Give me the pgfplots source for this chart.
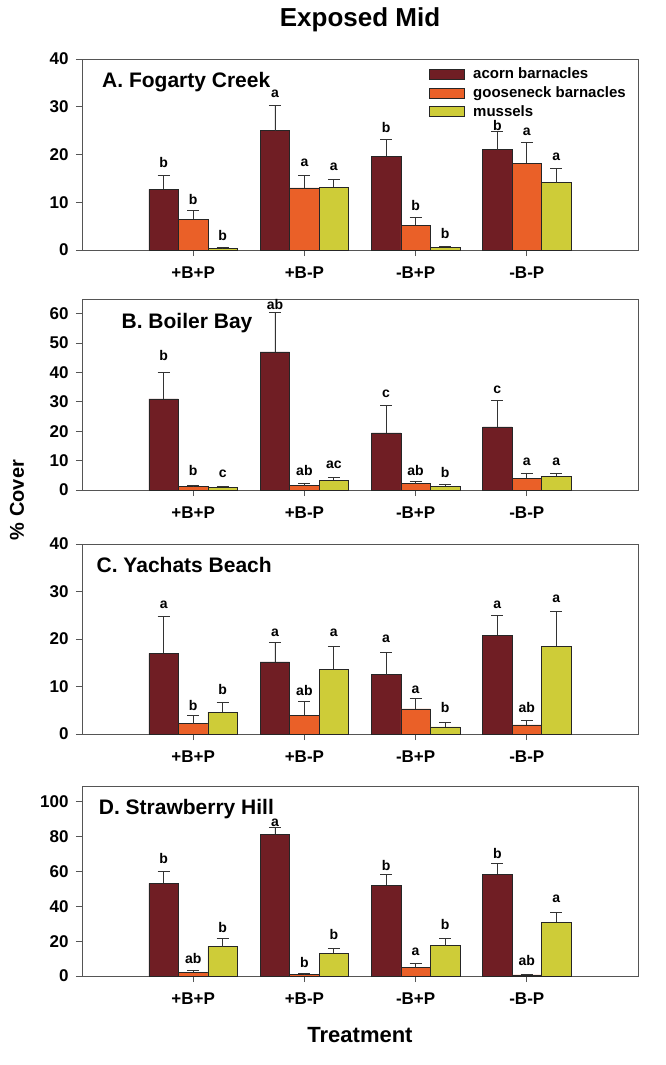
\documentclass[border=0pt]{standalone}
\usepackage{pgfplots}
\usepackage{pgfplotstable}
\pgfplotsset{compat=1.18}
\usepackage{fontspec}
\setmainfont{Liberation Sans}

\definecolor{acorn}{RGB}{112,30,36}
\definecolor{goose}{RGB}{234,96,40}
\definecolor{mussel}{RGB}{206,204,56}
\definecolor{frame}{RGB}{85,85,85}

% x = treatment index, a/g/m = mean cover, ae/ge/me = upper error
\pgfplotstableread{
x a ae g ge m me
1 12.7 3.0 6.4 1.8 0.3 0.2
2 25.0 5.3 13.0 2.7 13.1 1.7
3 19.6 3.5 5.2 1.7 0.6 0.2
4 21.0 3.9 18.2 4.4 14.1 2.9
}\tabA
\pgfplotstableread{
x a ae g ge m me
1 31.0 9.0 1.1 0.6 0.9 0.35
2 47.0 13.5 1.5 0.7 3.4 0.9
3 19.4 9.4 2.2 0.6 1.25 0.65
4 21.5 9.0 4.0 1.8 4.6 1.0
}\tabB
\pgfplotstableread{
x a ae g ge m me
1 17.0 7.8 2.2 1.7 4.6 2.1
2 15.2 4.1 4.0 2.8 13.6 4.9
3 12.5 4.7 5.3 2.2 1.5 1.0
4 20.8 4.1 1.9 1.0 18.5 7.25
}\tabC
\pgfplotstableread{
x a ae g ge m me
1 53.1 7.1 2.3 1.1 16.8 4.5
2 81.3 3.7 0.8 0.5 13.1 2.9
3 52.0 6.5 4.8 2.6 17.5 4.2
4 58.5 6.1 0.6 0.5 30.9 5.5
}\tabD

\newcommand{\fsz}[1]{\fontsize{#1}{#1}\selectfont\bfseries}

\tikzset{
  acornbar/.style={fill=acorn, draw=black!85, line width=0.6pt},
  goosebar/.style={fill=goose, draw=black!85, line width=0.6pt},
  musselbar/.style={fill=mussel, draw=black!85, line width=0.6pt},
  sig/.style={font=\fsz{14}, inner sep=0pt},
  ptitle/.style={font=\fsz{21}, anchor=west, inner sep=0pt},
}

\pgfplotsset{
  panel/.style={
    scale only axis, width=556pt,
    ybar, clip=false,
    xmin=0, xmax=5,
    xtick={1,2,3,4},
    xticklabels={+B+P,+B-P,-B+P,-B-P},
    xtick pos=bottom, ytick pos=left,
    tick align=outside,
    major tick length=6pt,
    axis line style={frame, line width=1pt},
    tick style={frame, line width=1pt},
    ymin=0,
    /pgf/number format/assume math mode=true,
    xticklabel style={font=\fsz{17}, yshift=-7pt},
    yticklabel style={font=\fsz{17}, xshift=-4pt},
    bar width=0.265,
    error bars/y dir=plus,
    error bars/y explicit,
    error bars/error bar style={black!80, line width=0.8pt},
    error bars/error mark options={rotate=90, mark size=6pt, black!80, line width=0.8pt},
  },
}

\begin{document}
\begin{tikzpicture}
\path[use as bounding box] (0,0) rectangle (665pt,-1065pt);

\node[font=\fsz{26}] at (360pt,-20pt) {Exposed Mid};
\node[font=\fsz{20}, rotate=90] at (17pt,-500pt) {\% Cover};
\node[font=\fsz{22}] at (360pt,-1035pt) {Treatment};

% A. Fogarty Creek
\begin{axis}[panel, at={(82pt,-59pt)}, anchor=north west, height=191pt,
  ymax=40, ytick={0,10,20,30,40},
  legend style={at={(rel axis cs:0.623,0.964)}, anchor=north west, draw=none, fill=none,
    font=\fsz{15}, row sep=2.4pt, inner sep=0pt,
    legend cell align=left},
  legend image code/.code={\draw[#1] (0pt,-5pt) rectangle (35pt,5pt); \path (42pt,0pt);},
]
\addplot[acornbar, bar shift=-0.265] table[x=x, y=a, y error=ae] {\tabA};
\addplot[goosebar, bar shift=0] table[x=x, y=g, y error=ge] {\tabA};
\addplot[musselbar, bar shift=0.265] table[x=x, y=m, y error=me] {\tabA};
\legend{acorn barnacles, gooseneck barnacles, mussels}
\node[ptitle] at (rel axis cs:0.036,0.880) {A. Fogarty Creek};
\node[sig] at (axis cs:0.735,18.4) {b};
\node[sig] at (axis cs:1,10.6) {b};
\node[sig] at (axis cs:1.265,3.0) {b};
\node[sig] at (axis cs:1.735,32.7) {a};
\node[sig] at (axis cs:2,18.2) {a};
\node[sig] at (axis cs:2.265,17.5) {a};
\node[sig] at (axis cs:2.735,25.7) {b};
\node[sig] at (axis cs:3,9.3) {b};
\node[sig] at (axis cs:3.265,3.4) {b};
\node[sig] at (axis cs:3.735,26.1) {b};
\node[sig] at (axis cs:4,24.8) {a};
\node[sig] at (axis cs:4.265,19.6) {a};
\end{axis}

% B. Boiler Bay
\begin{axis}[panel, at={(82pt,-299pt)}, anchor=north west, height=191pt,
  ymax=65, ytick={0,10,20,30,40,50,60}]
\addplot[acornbar, bar shift=-0.265] table[x=x, y=a, y error=ae] {\tabB};
\addplot[goosebar, bar shift=0] table[x=x, y=g, y error=ge] {\tabB};
\addplot[musselbar, bar shift=0.265] table[x=x, y=m, y error=me] {\tabB};
\node[ptitle] at (rel axis cs:0.071,0.874) {B. Boiler Bay};
\node[sig] at (axis cs:0.735,45.9) {b};
\node[sig] at (axis cs:1,6.6) {b};
\node[sig] at (axis cs:1.265,5.4) {c};
\node[sig] at (axis cs:1.735,63.2) {ab};
\node[sig] at (axis cs:2,6.8) {ab};
\node[sig] at (axis cs:2.265,8.5) {ac};
\node[sig] at (axis cs:2.735,32.7) {c};
\node[sig] at (axis cs:3,6.8) {ab};
\node[sig] at (axis cs:3.265,5.9) {b};
\node[sig] at (axis cs:3.735,34.2) {c};
\node[sig] at (axis cs:4,9.7) {a};
\node[sig] at (axis cs:4.265,9.7) {a};
\end{axis}

% C. Yachats Beach
\begin{axis}[panel, at={(82pt,-544pt)}, anchor=north west, height=190pt,
  ymax=40, ytick={0,10,20,30,40}]
\addplot[acornbar, bar shift=-0.265] table[x=x, y=a, y error=ae] {\tabC};
\addplot[goosebar, bar shift=0] table[x=x, y=g, y error=ge] {\tabC};
\addplot[musselbar, bar shift=0.265] table[x=x, y=m, y error=me] {\tabC};
\node[ptitle] at (rel axis cs:0.026,0.889) {C. Yachats Beach};
\node[sig] at (axis cs:0.735,27.3) {a};
\node[sig] at (axis cs:1,6.1) {b};
\node[sig] at (axis cs:1.265,9.4) {b};
\node[sig] at (axis cs:1.735,21.3) {a};
\node[sig] at (axis cs:2,9.1) {ab};
\node[sig] at (axis cs:2.265,21.3) {a};
\node[sig] at (axis cs:2.735,20.1) {a};
\node[sig] at (axis cs:3,9.4) {a};
\node[sig] at (axis cs:3.265,5.5) {b};
\node[sig] at (axis cs:3.735,27.3) {a};
\node[sig] at (axis cs:4,5.5) {ab};
\node[sig] at (axis cs:4.265,28.4) {a};
\end{axis}

% D. Strawberry Hill
\begin{axis}[panel, at={(82pt,-786pt)}, anchor=north west, height=190pt,
  ymax=109, ytick={0,20,40,60,80,100}]
\addplot[acornbar, bar shift=-0.265] table[x=x, y=a, y error=ae] {\tabD};
\addplot[goosebar, bar shift=0] table[x=x, y=g, y error=ge] {\tabD};
\addplot[musselbar, bar shift=0.265] table[x=x, y=m, y error=me] {\tabD};
\node[ptitle] at (rel axis cs:0.030,0.879) {D. Strawberry Hill};
\node[sig] at (axis cs:0.735,67.4) {b};
\node[sig] at (axis cs:1,10.3) {ab};
\node[sig] at (axis cs:1.265,28.0) {b};
\node[sig] at (axis cs:1.735,88.0) {a};
\node[sig] at (axis cs:2,8.0) {b};
\node[sig] at (axis cs:2.265,23.6) {b};
\node[sig] at (axis cs:2.735,63.6) {b};
\node[sig] at (axis cs:3,13.7) {a};
\node[sig] at (axis cs:3.265,29.5) {b};
\node[sig] at (axis cs:3.735,70.5) {b};
\node[sig] at (axis cs:4,9.0) {ab};
\node[sig] at (axis cs:4.265,44.2) {a};
\end{axis}
\end{tikzpicture}
\end{document}
